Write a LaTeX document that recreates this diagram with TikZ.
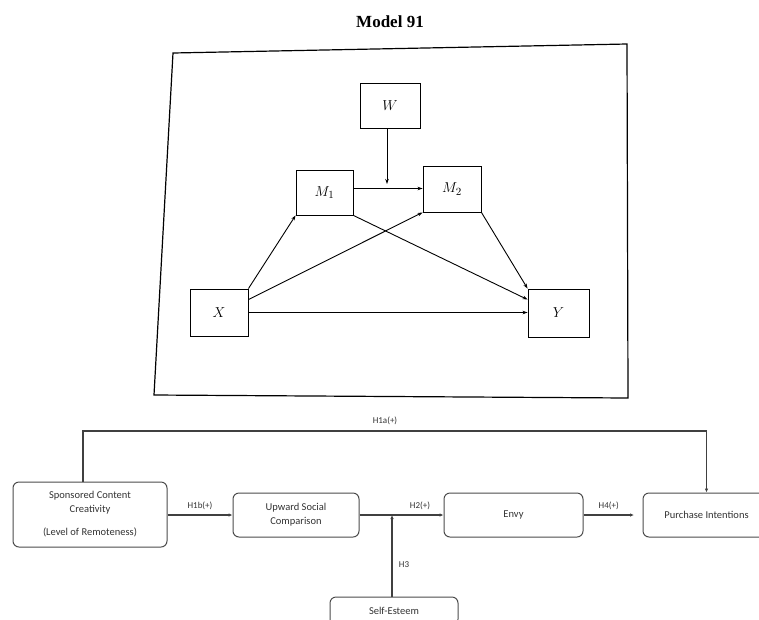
\documentclass[tikz,border=0pt]{standalone}
\usepackage{fontspec}
\setmainfont{Liberation Serif}
\newfontfamily\labfont{Carlito}
\usetikzlibrary{arrows.meta,positioning,calc}

\begin{document}
\begin{tikzpicture}[x=1pt,y=-1pt,
  var/.style={draw=black,line width=0.9pt,rectangle,inner sep=0pt,font=\fontsize{15}{15}\selectfont},
  parr/.style={-{Stealth[length=5pt,width=3.5pt]},line width=0.9pt,black},
  cbox/.style={draw=black!70,line width=1pt,rounded corners=6pt,inner sep=0pt,align=center,
               font=\labfont\fontsize{10.5}{14}\selectfont,text=black!80},
  garr/.style={-{Latex[length=4pt,width=3.5pt]},line width=1.1pt,draw=black!75},
  glab/.style={font=\labfont\fontsize{9}{10}\selectfont,text=black!80}
]
\useasboundingbox[fill=white] (0,0) rectangle (759,619);

% ---- conceptual model template ----
\node[font=\bfseries\fontsize{17}{17}\selectfont] (title) at (390,22) {Model 91};
\draw[line width=1.2pt] (173,53) -- (627,44) -- (628,398) -- (154,395) -- cycle;

\node[var,minimum width=60pt,minimum height=45pt] (W)  at (390,105.5) {$W$};
\node[var,minimum width=57pt,minimum height=45pt] (M1) at (324.5,192.5) {$M_1$};
\node[var,minimum width=58pt,minimum height=46pt] (M2) at (452,189) {$M_2$};
\node[var,minimum width=58pt,minimum height=47pt] (X)  at (219,312.5) {$X$};
\node[var,minimum width=61pt,minimum height=48pt] (Y)  at (558.5,313) {$Y$};

\coordinate (wtip) at (387,184);
\draw[parr] ([xshift=-3pt]W.south) -- (wtip);
\draw[parr] ([yshift=4pt]M1.east) -- ([yshift=4pt]M1.east -| M2.west);
\draw[parr] (X.north east) -- (M1.south west);
\draw[parr] ([yshift=-11pt]X.north east) -- (M2.south west);
\draw[parr] (M1.south east) -- ([yshift=-11pt]Y.north west);
\draw[parr] (M2.south east) -- (Y.north west);
\draw[parr] (X.east) -- (X.east -| Y.west);

% ---- research model ----
\node[cbox,minimum width=154pt,minimum height=65pt] (SC) at (90,514.5)
  {Sponsored Content\\Creativity\\[9pt](Level of Remoteness)};
\node[cbox,minimum width=126pt,minimum height=44pt] (USC) at (296,515)
  {Upward Social\\Comparison};
\node[cbox,minimum width=139pt,minimum height=44pt] (EN) at (513.5,515) {Envy};
\node[cbox,minimum width=127pt,minimum height=44pt] (PI) at (706.5,515) {Purchase Intentions};
\node[cbox,minimum width=128pt,minimum height=28pt] (SE) at (394,611) {Self-Esteem};

\coordinate (topmid) at (385,431);
\draw[garr] ([xshift=-7pt]SC.north) |- (topmid) -| (PI.north);
\node[glab] (l1a) at (385,421) {H1a(+)};

\draw[garr] (SC.east |- USC.west) -- (USC.west) node[glab,midway,above=1pt] (l1b) {H1b(+)};
\draw[garr] (USC.east) -- (EN.west) node[glab,pos=0.72,above=1pt] (l2) {H2(+)};
\coordinate (pitip) at (634,515);
\draw[garr] (EN.east) -- (pitip) node[glab,midway,above=1pt] (l4) {H4(+)};
\draw[garr] ([xshift=-2pt]SE.north) -- ([xshift=-2pt]SE.north |- USC.east);
\node[glab] (l3) at (404,565) {H3};
\end{tikzpicture}
\end{document}
